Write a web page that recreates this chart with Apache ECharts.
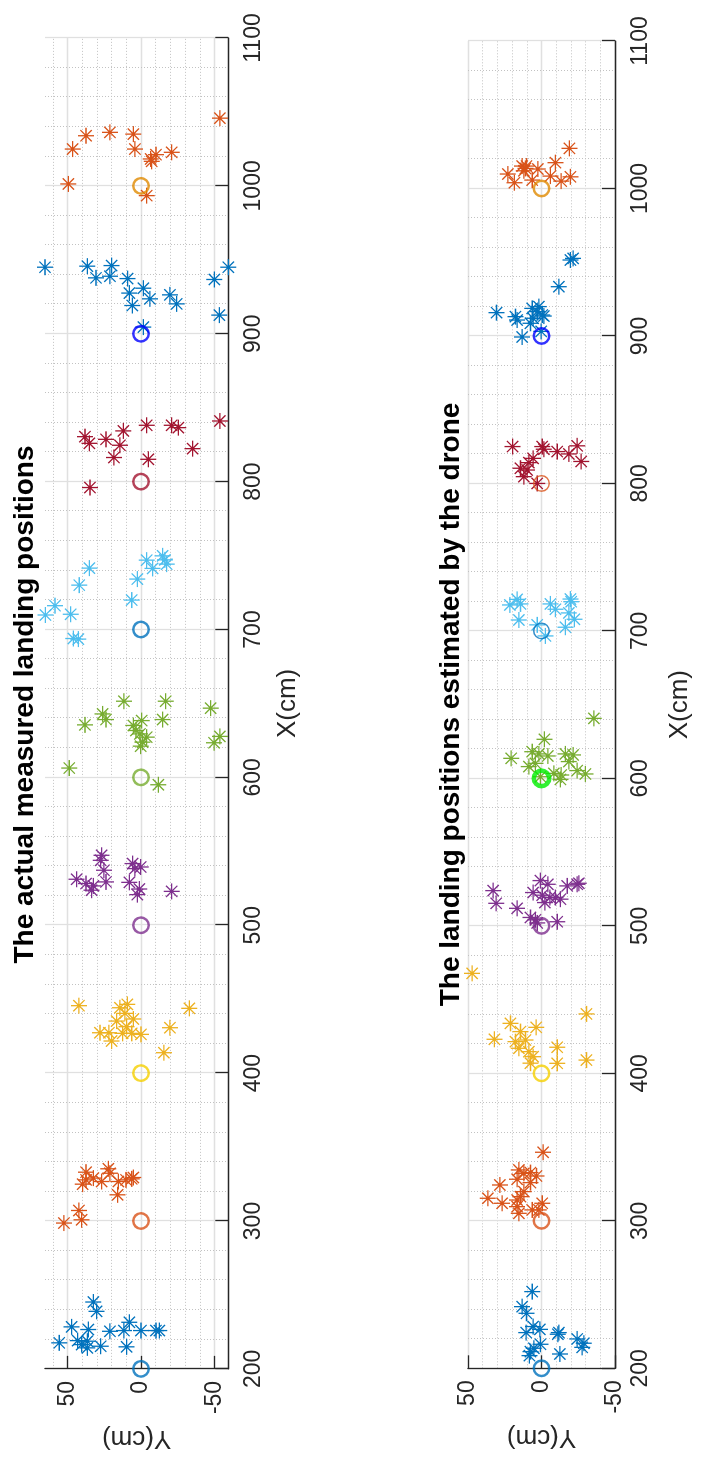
<!DOCTYPE html>
<html>
<head>
<meta charset="utf-8">
<script src="https://cdn.jsdelivr.net/npm/echarts/dist/echarts.min.js"></script>
<style>
html,body{margin:0;padding:0;background:#fff;overflow:hidden;width:701px;height:1459px;}
#rot{position:absolute;left:0;top:0;width:1459px;height:701px;transform-origin:0 0;transform:translate(0px,1459px) rotate(-90deg);background:#fff;}
</style>
</head>
<body>
<div id="rot"></div>
<script>
// ---- data (X cm, Y cm) ----
const targetX = [200, 300, 400, 500, 600, 700, 800, 900, 1000];
const targetY = [0, 0, 0, 0, 0, 0, 0, 0, 0];

// actual measured landing positions
const m200 = [[245.2,32.4],[238.9,30.2],[228.4,47.2],[226.6,35.8],[225.4,21.1],[225.9,11.6],[231.5,7.9],[225.9,0],[225.9,-10.2],[225.9,-12.5],[217.6,55.6],[219.1,43.1],[218.7,36.5],[216.4,40.4],[214.2,36.5],[215.3,27.4],[214.9,9.8]];
const m300 = [[298.6,52.4],[300.8,40.4],[307.1,42.2],[317.7,15.9],[333.0,37.4],[327.8,37.4],[324.9,39.7],[329.0,32.4],[326.7,26.8],[335.3,22.2],[332.3,21.1],[326.7,15.4],[327.8,10.2],[328.5,6.3],[329.4,5.2]];
const m400 = [[445.6,42.2],[443.8,-32.9],[446.5,9.3],[444.2,14.3],[440.4,10.9],[436.6,5.2],[435.2,16.6],[431.4,9.8],[430.7,-19.7],[427.3,27.9],[427.3,21.8],[426.9,12.5],[426.9,6.3],[426.2,0],[421.7,20.0],[413.8,-15.6]];
const m500 = [[547.3,26.8],[543.9,27.4],[537.2,25.2],[531.1,43.8],[528.2,37.4],[526.6,32.4],[523.7,33.6],[529.3,23.8],[541.7,5.7],[538.3,4.1],[539.4,0.2],[529.0,7.9],[524.5,1.1],[520.7,2.5],[522.9,-20.9]];
const m600 = [[606.3,48.8],[595.0,-11.8],[651.5,11.6],[651.5,-16.8],[646.8,-47.4],[642.9,26.1],[639.1,23.8],[635.5,38.1],[639.1,-14.7],[638.4,-0.5],[635.1,5.2],[631.7,3.4],[629.4,0.7],[627.2,-3.9],[623.8,-1.1],[621.1,0.2],[627.7,-53.7],[623.4,-49.7]];
const m700 = [[749.8,-14.7],[747.1,-16.3],[744.2,-17.5],[746.9,-3.9],[741.3,-7.9],[741.5,35.1],[730.0,42.0],[734.1,2.5],[719.9,6.3],[716.1,58.5],[709.8,65.0],[710.3,47.8],[693.9,46.0],[693.5,42.6]];
const m800 = [[841.0,-53.7],[838.1,-3.9],[838.1,-20.9],[836.5,-25.4],[830.4,38.1],[825.9,35.1],[834.3,12.0],[828.6,23.8],[824.6,14.3],[816.3,18.4],[815.1,-5.0],[822.3,-35.1],[796.0,34.7]];
const m900 = [[945.0,65.3],[945.0,-59.4],[945.7,36.5],[946.1,20.0],[937.8,30.6],[938.9,21.1],[937.3,9.1],[936.7,-49.9],[930.8,-1.6],[927.5,7.9],[923.6,-6.1],[926.3,-19.7],[920.2,-24.3],[919.1,5.9],[912.6,-53.3],[904.5,-1.6]];
const m1000 = [[1045.8,-53.7],[1033.9,37.4],[1036.2,21.1],[1035.0,5.2],[1024.9,46.5],[1024.9,4.1],[1022.7,-20.9],[1021.1,-10.2],[1018.2,-6.6],[1016.6,-7.3],[1001.3,49.4],[993.4,-3.9]];

// landing positions estimated by the drone
const e200 = [[252.0,6.3],[241.8,13.2],[237.3,10.2],[228.3,5.7],[226.4,1.1],[224.2,10.4],[224.2,-11.8],[223.1,-11.1],[219.9,-24.3],[217.0,-28.8],[214.2,-27.7],[213.6,5.2],[216.3,0.7],[211.3,7.5],[208.6,8.2],[209.7,-12.5]];
const e300 = [[346.5,-1.1],[334.5,15.4],[332.2,12.0],[332.7,7.5],[330.4,3.4],[328.2,16.6],[325.9,7.5],[324.3,28.3],[319.8,12.0],[316.4,14.3],[315.3,36.5],[311.9,26.8],[314.1,16.6],[309.6,16.6],[305.1,15.4],[311.9,-0.5],[307.4,6.3],[307.4,1.8]];
const e400 = [[467.8,47.2],[440.3,-30.6],[433.9,21.1],[431.2,3.6],[428.3,14.3],[423.1,32.0],[421.5,17.7],[422.6,10.9],[417.0,15.4],[414.7,8.6],[417.7,-10.7],[411.3,5.7],[409.0,-30.6],[406.9,7.5],[406.8,-10.7]];
const e500 = [[523.9,32.9],[515.3,30.8],[511.9,16.6],[530.7,0.7],[528.2,-4.3],[527.1,-17.5],[528.2,-24.3],[528.9,-25.4],[522.6,5.7],[520.8,-0.5],[519.2,-5.7],[519.2,-9.5],[518.1,-12.9],[515.8,-2.3],[505.7,7.5],[504.1,4.1],[502.8,-10.7],[502.0,2.9]];
const e600 = [[640.7,-35.6],[626.5,-2.0],[618.1,6.3],[616.6,1.8],[615.2,-4.3],[613.6,20.6],[616.6,-16.3],[615.9,-21.5],[611.4,-18.6],[608.0,8.6],[603.4,-8.4],[602.3,-13.4],[605.3,-24.3],[603.0,-29.9],[599.3,-12.9],[610.2,4.1],[601.1,0.7]];
const e700 = [[721.4,16.6],[717.6,21.5],[718.3,14.3],[707.4,15.4],[718.3,-6.1],[714.7,-9.5],[721.6,-19.7],[719.8,-20.2],[712.2,-18.6],[707.9,-22.4],[702.5,-16.3],[704.1,2.9],[696.6,-2.7]];
const e800 = [[825.0,19.7],[825.0,-0.5],[823.2,-1.6],[821.6,-10.7],[820.0,-18.6],[825.5,-24.3],[814.9,-27.0],[817.0,5.7],[814.1,8.6],[810.3,14.3],[809.1,9.8],[804.6,12.0],[800.0,2.9]];
const e900 = [[951.5,-19.7],[952.6,-21.5],[933.4,-11.8],[915.8,30.6],[913.1,17.7],[910.8,16.6],[918.7,6.3],[919.9,1.8],[916.5,2.9],[914.2,-0.5],[912.0,5.7],[908.6,7.5],[913.5,-1.6],[899.3,13.2],[903.1,0.2]];
const e1000 = [[1027.2,-19.0],[1017.5,-9.5],[1009.8,22.9],[1003.9,18.4],[1015.2,13.2],[1013.6,10.9],[1012.0,12.0],[1015.2,10.2],[1013.2,2.5],[1005.7,6.3],[1008.4,-6.1],[1005.0,-13.4],[1007.9,-19.7]];

const xTicks = [200, 300, 400, 500, 600, 700, 800, 900, 1000, 1100];
const yTicks = [-50, 0, 50];
const titles = ['The actual measured landing positions', 'The landing positions estimated by the drone'];
const xName = 'X(cm)';
const yName = 'Y(cm)';

// ---- styles ----
const starColors = ['#0072BD','#D95319','#EDB120','#7E2F8E','#77AC30','#4DBEEE','#A2142F','#0072BD','#D95319'];
const circleColors1 = ['#0072BD','#D95319','#F5CF00','#7E2F8E','#77AC30','#0072BD','#A2142F','#0000FF','#E08A00'];
const circleColors2 = ['#0072BD','#D95319','#F5CF00','#7E2F8E','#00EE00','#0072BD','#D95319','#0000FF','#E08A00'];
const circleWidth1 = [2.5,2.5,2.5,2.5,2.5,2.5,2.5,2.5,2.5];
const circleWidth2 = [2.5,2.5,2.5,2.5,4.6,1.4,1.5,2.5,2.5];

const measured = [m200,m300,m400,m500,m600,m700,m800,m900,m1000];
const estimated = [e200,e300,e400,e500,e600,e700,e800,e900,e1000];

const FONT = '"Liberation Sans", Arial, Helvetica, sans-serif';
const AX = '#262626';
const STAR = 'path://M10 0L10 20M0 10L20 10M2.93 2.93L17.07 17.07M2.93 17.07L17.07 2.93';

const grids = [
  {left: 88, top: 45, width: 1333, height: 183.3},
  {left: 90.7, top: 468, width: 1327.3, height: 147}
];

function xAxisFor(i, gap) {
  return {
    type: 'value', gridIndex: i, min: 200, max: 1100, interval: 100,
    name: xName, nameLocation: 'middle', nameGap: gap,
    nameTextStyle: {fontSize: 26, color: AX, fontFamily: FONT},
    axisLine: {show: true, onZero: false, lineStyle: {color: AX, width: 1.3}},
    axisTick: {show: true, inside: true, length: 13, lineStyle: {color: AX, width: 1.3}},
    axisLabel: {fontSize: 23, color: AX, fontFamily: FONT, margin: 14,
      formatter: v => (xTicks.indexOf(v) >= 0 ? String(v) : '')},
    splitLine: {show: true, lineStyle: {color: '#E0E0E0', width: 1.3}},
    minorTick: {show: false, splitNumber: 5},
    minorSplitLine: {show: true, lineStyle: {color: '#C2C2C2', width: 1, type: [1, 2]}}
  };
}
function yAxisFor(i, min, max, gap) {
  return {
    type: 'value', gridIndex: i, min: min, max: max, splitNumber: 2,
    name: yName, nameLocation: 'middle', nameGap: gap, nameRotate: 90,
    nameTextStyle: {fontSize: 26, color: AX, fontFamily: FONT},
    axisLine: {show: true, onZero: false, lineStyle: {color: AX, width: 1.3}},
    axisTick: {show: true, inside: true, length: 13, customValues: yTicks, lineStyle: {color: AX, width: 1.3}},
    axisLabel: {fontSize: 23, color: AX, fontFamily: FONT, margin: 12, customValues: yTicks},
    splitLine: {show: true, lineStyle: {color: '#E0E0E0', width: 1.3}},
    minorTick: {show: false, splitNumber: 5},
    minorSplitLine: {show: true, lineStyle: {color: '#C2C2C2', width: 1, type: [1, 2]}}
  };
}

const series = [];
function addPanel(p, groups, cColors, cWidths) {
  groups.forEach((g, i) => {
    series.push({
      type: 'scatter', xAxisIndex: p, yAxisIndex: p, data: g,
      symbol: STAR, symbolSize: 16, silent: true, animation: false,
      emphasis: {disabled: true},
      itemStyle: {color: 'rgba(0,0,0,0)', borderColor: starColors[i], borderWidth: 1.3, opacity: 1}
    });
  });
  series.push({
    type: 'scatter', xAxisIndex: p, yAxisIndex: p, symbol: 'circle', symbolSize: 15.5,
    silent: true, animation: false, emphasis: {disabled: true}, z: 5,
    data: targetX.map((x, i) => ({
      value: [x, targetY[i]],
      itemStyle: {color: 'rgba(0,0,0,0)', borderColor: cColors[i], borderWidth: cWidths[i]}
    }))
  });
}
addPanel(0, measured, circleColors1, circleWidth1);
addPanel(1, estimated, circleColors2, circleWidth2);

const chart = echarts.init(document.getElementById('rot'), null, {renderer: 'canvas', width: 1459, height: 701});
chart.setOption({
  animation: false,
  backgroundColor: '#fff',
  grid: grids,
  xAxis: [xAxisFor(0, 47), xAxisFor(1, 52)],
  yAxis: [yAxisFor(0, -59.4, 65.3, 48), yAxisFor(1, -50, 50, 54)],
  graphic: [
    {type: 'text', x: 754.5, y: 25, silent: true,
     style: {text: titles[0], font: 'bold 28px ' + FONT, fill: '#000', align: 'center', verticalAlign: 'middle'}},
    {type: 'text', x: 754.5, y: 451, silent: true,
     style: {text: titles[1], font: 'bold 28px ' + FONT, fill: '#000', align: 'center', verticalAlign: 'middle'}}
  ],
  series: series
});
</script>
</body>
</html>
